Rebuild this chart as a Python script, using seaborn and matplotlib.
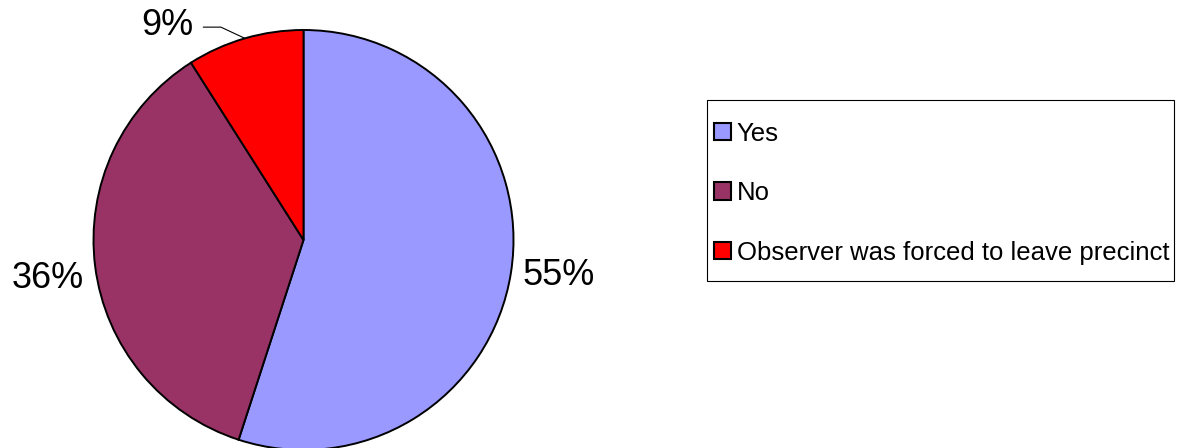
import numpy as np
import matplotlib
matplotlib.use("Agg")
import matplotlib.pyplot as plt
import seaborn as sns
from matplotlib.patches import Patch, Rectangle
from matplotlib.transforms import IdentityTransform

# chart data
categories = ["Yes", "No", "Observer was forced to leave precinct"]
shares = [55, 36, 9]
colors = ["#9999FF", "#993366", "#FF0000"]

sns.set_style("white")
plt.rcParams["font.family"] = ["Liberation Sans", "DejaVu Sans"]
plt.rcParams["text.color"] = "black"

fig = plt.figure(figsize=(11.82, 4.48), dpi=100)

# pie centred at (303.5, 240) px with radius 210 px
cx, cy, r = 303.5, 240, 210
W, H = 1182, 448
ax = fig.add_axes([(cx - r) / W, (H - cy - r) / H, 2 * r / W, 2 * r / H])

wedges, _ = ax.pie(
    shares,
    colors=colors,
    startangle=90,
    counterclock=False,
    radius=1,
    wedgeprops={"edgecolor": "black", "linewidth": 1.4},
)
ax.set_xlim(-1, 1)
ax.set_ylim(-1, 1)
ax.set_aspect("equal")
ax.axis("off")

# percentage labels
y_nudge = [0.025, -0.03]
for i, (w, val) in enumerate(zip(wedges, shares)):
    mid = np.deg2rad((w.theta1 + w.theta2) / 2)
    label = f"{val}%"
    if i < 2:
        ax.text(1.23 * np.cos(mid), 1.23 * np.sin(mid) + y_nudge[i], label,
                ha="center", va="center", fontsize=26, clip_on=False)
    else:
        ax.annotate(
            label,
            xy=(np.cos(mid), np.sin(mid)),
            xytext=(-0.526, 1.022),
            ha="right", va="center", fontsize=26,
            annotation_clip=False,
            arrowprops=dict(arrowstyle="-", color="black", lw=0.8,
                            relpos=(1, 0.45), shrinkA=5, shrinkB=0,
                            connectionstyle="angle,angleA=0,angleB=155,rad=0"),
        )

# legend, frame drawn separately so the padding can differ per side
handles = [Patch(facecolor=c, edgecolor="black", linewidth=1.5) for c in colors]
leg = fig.legend(
    handles, categories,
    loc="upper left",
    bbox_to_anchor=(714 / W, 1 - 100 / H),
    frameon=False,
    fontsize=18.5,
    handlelength=0.66, handleheight=0.66, handletextpad=0.23,
    labelspacing=1.38, borderpad=0, borderaxespad=0,
)
fig.canvas.draw()
hb = leg.legend_handles[0].get_window_extent()
dx = 714 - hb.x0
dy = (H - 123) - hb.y1
leg.set_bbox_to_anchor((714 / W + dx / W, 1 - 100 / H + dy / H), transform=fig.transFigure)
fig.canvas.draw()

h0 = leg.legend_handles[0].get_window_extent()
h2 = leg.legend_handles[-1].get_window_extent()
tmax = max(t.get_window_extent().x1 for t in leg.get_texts())
x0, y0 = h0.x0 - 7, h2.y0 - 22
frame = Rectangle((x0, y0), tmax + 5 - x0, h0.y1 + 23 - y0,
                  transform=IdentityTransform(), fill=False,
                  edgecolor="black", linewidth=0.8)
fig.add_artist(frame)

fig.savefig("out.png", dpi=100)
